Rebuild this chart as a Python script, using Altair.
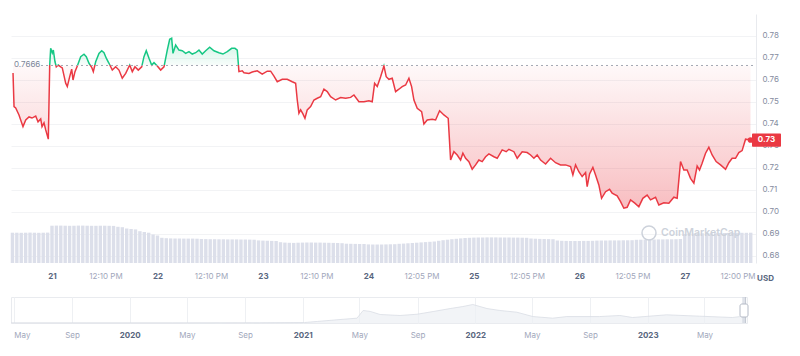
import altair as alt
import pandas as pd

# ---------------- data ----------------
BASE = 0.7666           # reference (opening) price shown by the dotted line
UNIT_LABEL = "USD"
WATERMARK = "CoinMarketCap"

# hours since the 20th 00:00
hours = [
    15.13, 15.36, 15.74, 16.49, 17.40, 18.02, 18.77, 19.45, 20.29, 20.82,
    21.43, 21.73, 22.18, 22.57, 23.16, 23.48, 23.70, 24.07, 24.30, 24.68,
    24.98, 25.43, 25.98, 26.34, 27.12, 27.48, 28.03, 28.48, 28.78, 29.23,
    29.76, 30.53, 31.28, 31.80, 32.42, 33.03, 33.40, 33.94, 34.69, 35.31,
    35.83, 36.35, 36.97, 37.72, 38.49, 39.24, 39.99, 40.77, 41.68, 42.27,
    42.88, 43.63, 44.41, 44.93, 45.45, 46.07, 46.68, 47.21, 47.96, 48.73,
    49.48, 50.23, 50.78, 51.23, 51.53, 52.14, 52.89, 53.64, 54.42, 55.17,
    55.92, 56.69, 57.44, 58.19, 58.97, 59.88, 60.86, 61.99, 62.90, 63.88,
    64.88, 65.63, 66.16, 66.54, 67.29, 67.68, 68.82, 69.57, 70.71, 71.84,
    72.98, 73.75, 74.51, 75.26, 76.39, 77.53, 78.67, 79.44, 79.81, 80.19,
    80.58, 81.10, 81.56, 82.08, 82.85, 83.61, 84.36, 85.13, 85.88, 86.63,
    87.40, 88.54, 89.68, 90.82, 91.95, 92.71, 93.84, 94.98, 96.12, 96.87,
    97.41, 98.01, 98.78, 99.53, 100.05, 100.67, 101.42, 102.19, 102.94, 103.69,
    104.47, 105.22, 105.83, 106.36, 107.11, 108.11, 108.63, 109.38, 110.52, 111.29,
    112.20, 113.18, 114.16, 114.70, 115.46, 116.21, 116.98, 117.50, 118.12, 118.87,
    119.62, 120.39, 121.14, 121.89, 122.67, 123.42, 124.56, 125.31, 126.44, 127.35,
    127.97, 129.11, 129.86, 130.99, 132.13, 132.90, 133.66, 134.41, 135.18, 136.32,
    137.45, 138.59, 139.73, 140.87, 142.00, 142.53, 143.14, 143.89, 144.64, 145.42,
    145.78, 146.33, 147.08, 147.69, 148.44, 149.06, 149.97, 150.88, 151.47, 152.61,
    153.38, 154.13, 154.88, 155.65, 156.63, 157.54, 158.45, 159.43, 160.20, 161.34,
    162.09, 163.23, 164.37, 165.51, 166.26, 167.03, 167.78, 168.53, 169.30, 170.06,
    170.81, 171.35, 171.94, 172.72, 173.47, 174.22, 175.13, 176.13, 177.27, 178.02,
    178.77, 179.54, 180.29, 181.04, 181.82, 182.95,
]

prices = [
    0.7632, 0.7479, 0.7473, 0.7441, 0.7388, 0.7418, 0.7432, 0.7427, 0.7436, 0.7410,
    0.7423, 0.7388, 0.7405, 0.7373, 0.7331, 0.7668, 0.7744, 0.7723, 0.7736, 0.7683,
    0.7660, 0.7668, 0.7660, 0.7655, 0.7585, 0.7570, 0.7615, 0.7649, 0.7600, 0.7638,
    0.7664, 0.7706, 0.7717, 0.7706, 0.7676, 0.7658, 0.7638, 0.7683, 0.7721, 0.7733,
    0.7724, 0.7699, 0.7676, 0.7645, 0.7660, 0.7645, 0.7608, 0.7630, 0.7668, 0.7638,
    0.7660, 0.7645, 0.7660, 0.7706, 0.7733, 0.7699, 0.7668, 0.7679, 0.7664, 0.7645,
    0.7660, 0.7736, 0.7785, 0.7790, 0.7721, 0.7759, 0.7736, 0.7733, 0.7721, 0.7729,
    0.7718, 0.7724, 0.7736, 0.7718, 0.7733, 0.7749, 0.7733, 0.7724, 0.7718, 0.7729,
    0.7744, 0.7744, 0.7736, 0.7638, 0.7642, 0.7633, 0.7630, 0.7636, 0.7642, 0.7627,
    0.7640, 0.7640, 0.7618, 0.7592, 0.7603, 0.7603, 0.7592, 0.7585, 0.7509, 0.7449,
    0.7464, 0.7446, 0.7426, 0.7464, 0.7479, 0.7509, 0.7517, 0.7524, 0.7558, 0.7547,
    0.7524, 0.7509, 0.7520, 0.7517, 0.7521, 0.7532, 0.7501, 0.7501, 0.7506, 0.7501,
    0.7585, 0.7570, 0.7615, 0.7664, 0.7615, 0.7603, 0.7608, 0.7547, 0.7558, 0.7570,
    0.7577, 0.7608, 0.7570, 0.7509, 0.7471, 0.7456, 0.7400, 0.7418, 0.7421, 0.7418,
    0.7460, 0.7441, 0.7426, 0.7236, 0.7274, 0.7259, 0.7236, 0.7267, 0.7244, 0.7229,
    0.7194, 0.7214, 0.7236, 0.7229, 0.7251, 0.7264, 0.7251, 0.7244, 0.7282, 0.7274,
    0.7285, 0.7274, 0.7244, 0.7274, 0.7270, 0.7259, 0.7244, 0.7259, 0.7236, 0.7218,
    0.7244, 0.7224, 0.7214, 0.7214, 0.7206, 0.7168, 0.7214, 0.7183, 0.7161, 0.7179,
    0.7115, 0.7173, 0.7203, 0.7168, 0.7123, 0.7062, 0.7092, 0.7103, 0.7085, 0.7073,
    0.7047, 0.7017, 0.7021, 0.7055, 0.7040, 0.7024, 0.7062, 0.7077, 0.7055, 0.7067,
    0.7032, 0.7042, 0.7040, 0.7067, 0.7062, 0.7229, 0.7191, 0.7191, 0.7153, 0.7131,
    0.7209, 0.7191, 0.7221, 0.7267, 0.7294, 0.7259, 0.7229, 0.7214, 0.7194, 0.7224,
    0.7244, 0.7244, 0.7270, 0.7279, 0.7331, 0.7327,
]

# hourly 24h-volume bars (arbitrary units, millions)
vol_hours = list(range(15, 184))
volumes = [
    303, 303, 302, 303, 304, 303, 302, 303, 304,
    373, 374, 374, 373, 372, 373, 374, 374, 373, 372, 372, 373, 373, 372, 371,
    362, 358,
    345, 340, 336,
    318, 310, 303,
    285, 275,
    252, 248, 246, 245, 245, 244, 244, 244, 243,
    240, 239, 238, 238, 237, 237, 236, 236, 236, 235, 235, 234, 233,
    226, 224, 222, 221, 220,
    208, 204, 202, 201,
    203, 204, 205, 205, 204, 204, 203, 202, 201, 200, 198,
    193, 192, 191, 190, 190,
    186, 185, 185, 185, 186, 187, 188,
    192, 194, 197, 200, 203, 206, 209, 212, 215,
    222, 228, 233, 238, 242, 246, 250, 252,
    254, 255, 255, 256, 256, 256, 255, 255, 255, 254, 254, 253, 252,
    245, 243, 241, 240, 239, 238,
    225, 222, 221, 220, 220, 220, 221, 221, 222,
    224, 225, 225, 226, 226, 226, 227, 227, 228,
    232, 233, 234, 235, 235, 236, 236, 237, 237, 238, 240,
    290, 294, 295, 296, 297, 298, 298, 299, 300, 300, 301, 301, 302, 302, 302, 303,
]

tick_hours = [24, 36 + 10 / 60, 48, 60 + 10 / 60, 72, 84 + 10 / 60, 96,
              108 + 5 / 60, 120, 132 + 5 / 60, 144, 156 + 5 / 60, 168, 180]
tick_labels = ["21", "12:10 PM", "22", "12:10 PM", "23", "12:10 PM", "24",
               "12:05 PM", "25", "12:05 PM", "26", "12:05 PM", "27", "12:00 PM"]
y_ticks = [0.68, 0.69, 0.70, 0.71, 0.72, 0.73, 0.74, 0.75, 0.76, 0.77, 0.78]

# navigator (full history)
nav_dates = ["2019-04-25", "2019-10-01", "2020-04-01", "2020-10-01", "2021-01-05",
             "2021-02-01", "2021-03-21", "2021-04-26", "2021-05-09", "2021-05-24",
             "2021-06-14", "2021-07-26", "2021-08-31", "2021-10-04", "2021-11-09",
             "2021-12-06", "2021-12-27", "2022-01-26", "2022-02-22", "2022-03-30",
             "2022-05-03", "2022-06-14", "2022-07-14", "2022-09-21", "2022-11-03",
             "2022-11-30", "2023-02-10", "2023-04-20", "2023-06-29", "2023-07-27"]
nav_values = [0.02, 0.02, 0.02, 0.03, 0.05, 0.16, 0.36, 0.50, 1.30, 1.20,
              0.88, 0.78, 0.91, 1.19, 1.50, 1.71, 1.92, 1.50, 1.30, 1.12,
              0.67, 0.50, 0.67, 0.67, 0.78, 0.57, 0.85, 0.71, 0.57, 0.73]
nav_ticks = ["2019-05-01", "2019-09-01", "2020-01-01", "2020-05-01", "2020-09-01",
             "2021-01-01", "2021-05-01", "2021-09-01", "2022-01-01", "2022-05-01",
             "2022-09-01", "2023-01-01", "2023-05-01"]
nav_domain = ["2019-04-25", "2023-07-30"]
sel_start, sel_end = "2023-07-20", "2023-07-27"

# ---------------- styling ----------------
RED = "#ea3943"
GREEN = "#16c784"
FONT = "Inter"
BOX_HALF = 0.003   # half height of the price tag, in price units


def dt(s):
    y, m, d = (int(v) for v in s.split("-"))
    return alt.DateTime(year=y, month=m, date=d, utc=True)


price_df = pd.DataFrame({"hour": hours, "price": prices})
vol_df = pd.DataFrame({"hour": vol_hours, "volume": volumes})
base_df = pd.DataFrame({"price": [BASE]})
last_df = pd.DataFrame({"hour": [hours[-1]], "price": [prices[-1]]})
usd_df = pd.DataFrame({"t": [UNIT_LABEL]})
wm_df = pd.DataFrame({"t": [WATERMARK]})

pmax, pmin = max(prices), min(prices)
frac = (pmax - BASE) / (pmax - pmin)

line_grad = alt.LinearGradient(
    gradient="linear", x1=0, x2=0, y1=0, y2=1,
    stops=[alt.GradientStop(color=GREEN, offset=0),
           alt.GradientStop(color=GREEN, offset=frac),
           alt.GradientStop(color=RED, offset=frac),
           alt.GradientStop(color=RED, offset=1)])
area_grad = alt.LinearGradient(
    gradient="linear", x1=0, x2=0, y1=0, y2=1,
    stops=[alt.GradientStop(color="rgba(22,199,132,0.22)", offset=0),
           alt.GradientStop(color="rgba(22,199,132,0.03)", offset=frac),
           alt.GradientStop(color="rgba(234,57,67,0.03)", offset=frac),
           alt.GradientStop(color="rgba(234,57,67,0.33)", offset=1)])

label_list = "[" + ",".join(f"'{t}'" for t in tick_labels) + "]"
value_list = "[" + ",".join(repr(float(v)) for v in tick_hours) + "]"

x_axis = alt.Axis(
    values=tick_hours,
    labelExpr=f"{label_list}[indexof({value_list}, datum.value)]",
    labelFontWeight={"expr": "datum.value % 24 === 0 ? 'bold' : 'normal'"},
    labelColor={"expr": "datum.value % 24 === 0 ? '#58667e' : '#a1a7bb'"},
    labelFontSize=8, labelFont=FONT, labelPadding=9, labelFlush=False,
    ticks=False, tickSize=0, domain=False, grid=False, title=None)
y_axis = alt.Axis(
    orient="right", values=y_ticks, format=".2f",
    labelFontSize=8, labelFont=FONT, labelColor="#858ca0", labelPadding=6,
    ticks=False, tickSize=0, domain=True, domainColor="#e8eaee",
    grid=True, gridColor="#f2f3f5", title=None)

# padding=0: bar marks would otherwise pad the continuous x range by 5px
xscale = alt.Scale(domain=[14.67, 184.2], nice=False, zero=False, padding=0)
yscale = alt.Scale(domain=[0.6768, 0.79], nice=False, zero=False)

X = alt.X("hour:Q", scale=xscale, axis=x_axis)
Y = alt.Y("price:Q", scale=yscale, axis=y_axis)

vol = alt.Chart(vol_df).mark_bar(width=3.4, color="#dcdfea").encode(
    x=X,
    y=alt.Y("volume:Q", scale=alt.Scale(domain=[0, 2490], nice=False), axis=None),
)

area = alt.Chart(price_df).transform_calculate(base=str(BASE)).mark_area(
    fill=area_grad, interpolate="linear").encode(x=X, y=Y, y2="base:Q")

line = alt.Chart(price_df).mark_line(
    stroke=line_grad, strokeWidth=1.5, interpolate="linear").encode(x=X, y=Y)

rule = alt.Chart(base_df).mark_rule(
    strokeDash=[2, 3], color="#a3a8b3", strokeWidth=1).encode(
    y=Y, x=alt.value(30), x2=alt.value(745))

base_label = alt.Chart(base_df).mark_text(
    align="left", fontSize=8, font=FONT, color="#7d8598").encode(
    y=Y, x=alt.value(3), text=alt.Text("price:Q", format=".4f"))

dot = alt.Chart(last_df).mark_point(
    filled=True, size=32, color=RED, opacity=1).encode(x=X, y=Y)

box = alt.Chart(last_df).transform_calculate(
    top=f"datum.price + {BOX_HALF}", bottom=f"datum.price - {BOX_HALF}"
).mark_rect(color=RED, cornerRadius=1).encode(
    x=alt.value(741), x2=alt.value(770),
    y=alt.Y("top:Q", scale=yscale, axis=y_axis), y2="bottom:Q")

box_text = alt.Chart(last_df).mark_text(
    color="white", fontSize=8, font=FONT, fontWeight="bold").encode(
    x=alt.value(755.5), y=Y, text=alt.Text("price:Q", format=".2f"))

usd = alt.Chart(usd_df).mark_text(
    fontSize=8, font=FONT, fontWeight="bold", color="#58667e").encode(
    x=alt.value(754.5), y=alt.value(265), text="t:N")

wm_logo = alt.Chart(wm_df).mark_point(
    shape="circle", size=196, filled=False, color="#cdd2db", strokeWidth=1.5,
    opacity=1).encode(x=alt.value(638), y=alt.value(219))
wm_text = alt.Chart(wm_df).mark_text(
    align="left", fontSize=10.5, font=FONT, fontWeight=600, color="#cdd2db").encode(
    x=alt.value(650), y=alt.value(219), text="t:N")

price_layers = alt.layer(area, line, rule, base_label, dot, box, box_text, usd,
                         wm_logo, wm_text)

main = alt.layer(vol, price_layers).resolve_scale(y="independent").properties(
    width=745, height=249)

# ---------------- navigator ----------------
nav_df = pd.DataFrame({"date": nav_dates, "value": nav_values})
sel_df = pd.DataFrame({"start": [sel_start], "end": [sel_end]})

nx_scale = alt.Scale(type="utc", domain=[dt(nav_domain[0]), dt(nav_domain[1])],
                     nice=False, padding=0)
nav_axis = alt.Axis(
    values=[dt(s) for s in nav_ticks],
    labelExpr="utcmonth(datum.value) === 0 ? utcFormat(datum.value, '%Y') : utcFormat(datum.value, '%b')",
    labelFontWeight={"expr": "utcmonth(datum.value) === 0 ? 'bold' : 'normal'"},
    labelColor={"expr": "utcmonth(datum.value) === 0 ? '#58667e' : '#a1a7bb'"},
    labelFontSize=8, labelFont=FONT, labelPadding=8, labelFlush=4,
    ticks=False, tickSize=0, domain=False, grid=True, gridColor="#eef0f3",
    title=None)

NX = alt.X("date:T", scale=nx_scale, axis=nav_axis)
NY = alt.Y("value:Q", scale=alt.Scale(domain=[0, 2.7], nice=False), axis=None)

nav_area = alt.Chart(nav_df).mark_area(
    color="#eceff4", line={"color": "#d9dde5", "strokeWidth": 0.8},
    interpolate="linear").encode(x=NX, y=NY)

sel_rect = alt.Chart(sel_df).mark_rect(color="#c9cfdb", opacity=0.6).encode(
    x=alt.X("start:T", scale=nx_scale, axis=nav_axis), x2="end:T",
    y=alt.value(0), y2=alt.value(26))

sel_rule = alt.Chart(sel_df).mark_rule(color="#c2c7d1").encode(
    x=alt.X("end:T", scale=nx_scale, axis=nav_axis), y=alt.value(0), y2=alt.value(26))

handle = alt.Chart(sel_df).mark_rect(
    fill="white", stroke="#b4bac6", strokeWidth=1, cornerRadius=2).encode(
    x=alt.value(729), x2=alt.value(737), y=alt.value(7), y2=alt.value(20))

nav = alt.layer(nav_area, sel_rect, sel_rule, handle).properties(
    width=736, height=26, view=alt.ViewBackground(stroke="#e9ebef", strokeWidth=1))

chart = alt.vconcat(main, nav, spacing=34, bounds="flush").properties(
    padding={"left": 8, "top": 14, "right": 0, "bottom": 0},
    background="white",
).configure_view(strokeWidth=0)

chart.save("out.html", embed_options={"renderer": "svg", "actions": False})
